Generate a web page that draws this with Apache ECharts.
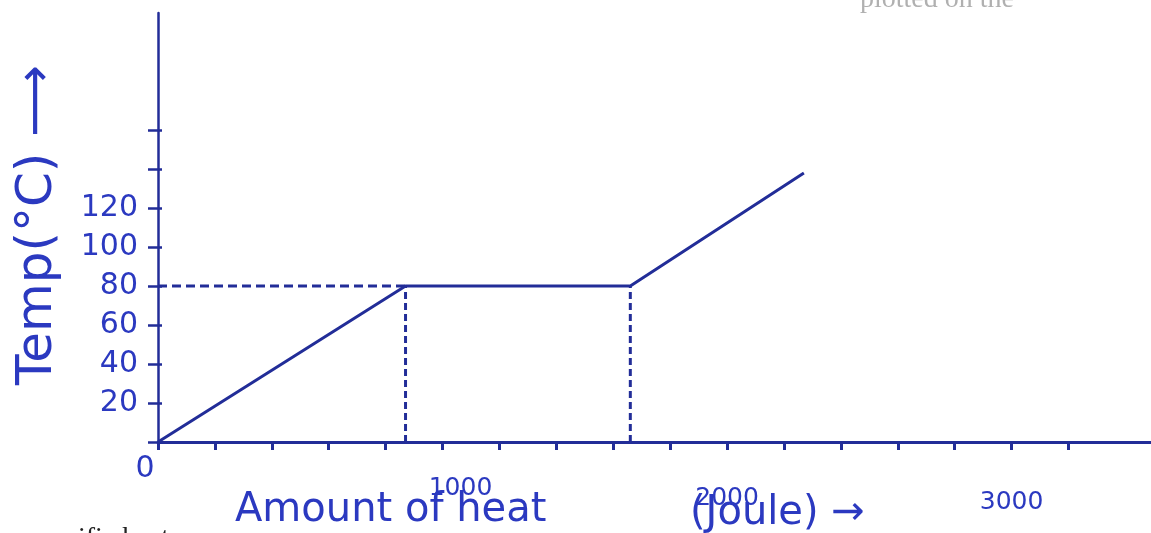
<!DOCTYPE html>
<html>
<head>
<meta charset="utf-8">
<script src="https://cdn.jsdelivr.net/npm/echarts@6/dist/echarts.min.js"></script>
<style>
html,body{margin:0;padding:0;background:#fff;}
#c{width:1151px;height:533px;}
</style>
</head>
<body>
<div id="c"></div>
<script>
// ---- data ----
const heatJoule = [0, 870, 1660, 2270];      // x of the heating curve
const tempC     = [0, 80, 80, 138];          // y of the heating curve
const plateauTemp = 80;
const plateauStart = 870;
const plateauEnd = 1660;
const yTickValues  = [0, 20, 40, 60, 80, 100, 120, 140, 160];
const yLabelValues = [20, 40, 60, 80, 100, 120];
const xTickValues  = [0, 200, 400, 600, 800, 1000, 1200, 1400, 1600, 1800, 2000, 2200, 2400, 2600, 2800, 3000, 3200];
const xLabelValues = [0, 1000, 2000, 3000];
const yTitle = 'Temp(°C) ⟶';
const xTitleA = 'Amount of heat';
const xTitleB = '(Joule) →';

const INK = '#222d98';
const PEN = '#2b39c0';

const curve = heatJoule.map((x, i) => [x, tempC[i]]);
const guideH  = [[0, plateauTemp], [plateauStart, plateauTemp]];
const guideV1 = [[plateauStart, 0], [plateauStart, plateauTemp]];
const guideV2 = [[plateauEnd, 0], [plateauEnd, plateauTemp]];

const chart = echarts.init(document.getElementById('c'), null, {renderer: 'canvas'});
const hand = 'DejaVu Sans';

chart.setOption({
  animation: false,
  backgroundColor: '#ffffff',
  grid: {left: 158, right: 0, top: 13, bottom: 91, containLabel: false},
  xAxis: {
    type: 'value', min: 0, max: 3490,
    axisLine: {show: true, lineStyle: {color: INK, width: 3}},
    axisTick: {show: true, length: 8, lineStyle: {color: INK, width: 3}, customValues: xTickValues},
    splitLine: {show: false},
    axisLabel: {
      show: true, margin: 12, customValues: xLabelValues,
      formatter: v => v === 0 ? '{o|0}' : v === 1000 ? '{a|1000}' : v === 2000 ? '{b|2000}' : '{c|3000}',
      rich: {
        o: {fontFamily: hand, fontSize: 30, color: PEN, padding: [0, 26, 0, 0]},
        a: {fontFamily: hand, fontSize: 25, color: PEN, padding: [22, 0, 0, 36]},
        b: {fontFamily: hand, fontSize: 25, color: PEN, padding: [32, 0, 0, 0]},
        c: {fontFamily: hand, fontSize: 25, color: PEN, padding: [36, 0, 0, 0]}
      }
    }
  },
  yAxis: [{
    type: 'value', min: 0, max: 220,
    axisLine: {show: true, lineStyle: {color: INK, width: 2.5}},
    axisTick: {show: true, length: 10, lineStyle: {color: INK, width: 2.5}, customValues: yTickValues},
    splitLine: {show: false},
    axisLabel: {show: true, margin: 20, customValues: yLabelValues,
      fontFamily: hand, fontSize: 30, color: PEN}
  }, {
    type: 'value', min: 0, max: 220, position: 'left',
    axisLine: {show: false},
    axisTick: {show: true, inside: true, length: 4, lineStyle: {color: INK, width: 2.5}, customValues: yTickValues},
    splitLine: {show: false},
    axisLabel: {show: false}
  }],
  series: [
    {type: 'line', data: curve, symbol: 'none', lineStyle: {color: INK, width: 3}, z: 5},
    {type: 'line', data: guideH, symbol: 'none', lineStyle: {color: INK, width: 3, type: [9, 5]}},
    {type: 'line', data: guideV1, symbol: 'none', lineStyle: {color: INK, width: 3, type: [7, 4]}},
    {type: 'line', data: guideV2, symbol: 'none', lineStyle: {color: INK, width: 3, type: [7, 4]}}
  ],
  graphic: [
    {type: 'text', x: 38, y: 225, rotation: Math.PI / 2,
      style: {text: yTitle, font: '50px "DejaVu Sans"', fill: PEN, align: 'center', verticalAlign: 'middle'}},
    {type: 'text', x: 235, y: 511,
      style: {text: xTitleA, font: '40px "DejaVu Sans"', fill: PEN, align: 'left', verticalAlign: 'middle'}},
    {type: 'text', x: 690, y: 514,
      style: {text: xTitleB, font: '40px "DejaVu Sans"', fill: PEN, align: 'left', verticalAlign: 'middle'}},
    {type: 'text', x: 860, y: 14,
      style: {text: 'plotted on the', font: '28px "Liberation Serif"', fill: '#b0b0b0', align: 'left', verticalAlign: 'bottom'}, z: -1},
    {type: 'text', x: 78, y: 525,
      style: {text: 'ific heat', font: '28px "Liberation Serif"', fill: '#222', align: 'left', verticalAlign: 'top'}, z: -1}
  ]
});
</script>
</body>
</html>
